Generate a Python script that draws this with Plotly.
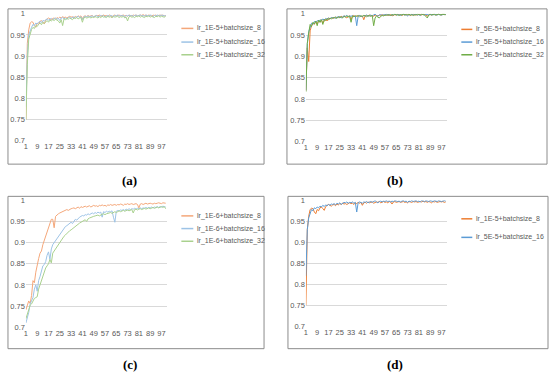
import plotly.graph_objects as go

epochs = list(range(1, 101))
x_tick_vals = list(range(1, 101, 8))
y_tick_vals = [0.7, 0.75, 0.8, 0.85, 0.9, 0.95, 1.0]
y_tick_text = ["0.7", "0.75", "0.8", "0.85", "0.9", "0.95", "1"]

# (a) lr 1E-5
a_bs8 = [0.750, 0.930, 0.962, 0.978, 0.981, 0.980, 0.972, 0.968, 0.978, 0.975,
         0.982, 0.984, 0.980, 0.976, 0.985, 0.987, 0.990, 0.988, 0.986, 0.989,
         0.990, 0.987, 0.991, 0.989, 0.992, 0.990, 0.993, 0.991, 0.992, 0.990,
         0.993, 0.994, 0.992, 0.993, 0.990, 0.994, 0.992, 0.995, 0.993, 0.995,
         0.988, 0.994, 0.995, 0.993, 0.996, 0.994, 0.995, 0.996, 0.993, 0.995,
         0.996, 0.995, 0.997, 0.994, 0.996, 0.997, 0.995, 0.996, 0.994, 0.997,
         0.996, 0.991, 0.996, 0.997, 0.995, 0.996, 0.997, 0.995, 0.996, 0.997,
         0.995, 0.996, 0.994, 0.997, 0.996, 0.995, 0.997, 0.996, 0.997, 0.995,
         0.996, 0.997, 0.996, 0.998, 0.996, 0.997, 0.995, 0.997, 0.996, 0.994,
         0.997, 0.996, 0.997, 0.995, 0.996, 0.997, 0.996, 0.997, 0.995, 0.996]
a_bs16 = [0.780, 0.900, 0.950, 0.962, 0.968, 0.975, 0.972, 0.978, 0.976, 0.980,
          0.982, 0.979, 0.984, 0.983, 0.986, 0.988, 0.985, 0.987, 0.989, 0.986,
          0.988, 0.990, 0.987, 0.989, 0.984, 0.990, 0.991, 0.988, 0.990, 0.987,
          0.991, 0.992, 0.989, 0.991, 0.993, 0.990, 0.992, 0.994, 0.991, 0.993,
          0.986, 0.992, 0.994, 0.993, 0.995, 0.992, 0.994, 0.995, 0.993, 0.995,
          0.996, 0.993, 0.995, 0.996, 0.994, 0.996, 0.992, 0.995, 0.996, 0.994,
          0.996, 0.995, 0.993, 0.996, 0.995, 0.997, 0.994, 0.996, 0.995, 0.996,
          0.993, 0.996, 0.995, 0.997, 0.995, 0.996, 0.994, 0.996, 0.997, 0.995,
          0.996, 0.997, 0.995, 0.996, 0.994, 0.997, 0.996, 0.995, 0.997, 0.996,
          0.993, 0.996, 0.995, 0.997, 0.996, 0.995, 0.997, 0.996, 0.995, 0.996]
a_bs32 = [0.750, 0.880, 0.940, 0.955, 0.963, 0.968, 0.965, 0.972, 0.970, 0.975,
          0.978, 0.974, 0.980, 0.977, 0.982, 0.984, 0.980, 0.985, 0.983, 0.986,
          0.984, 0.987, 0.985, 0.983, 0.978, 0.986, 0.972, 0.988, 0.986, 0.989,
          0.987, 0.990, 0.988, 0.986, 0.990, 0.989, 0.991, 0.988, 0.990, 0.991,
          0.980, 0.990, 0.992, 0.990, 0.991, 0.993, 0.990, 0.992, 0.991, 0.993,
          0.992, 0.990, 0.993, 0.991, 0.994, 0.992, 0.993, 0.991, 0.994, 0.992,
          0.993, 0.991, 0.994, 0.992, 0.993, 0.994, 0.991, 0.993, 0.992, 0.994,
          0.990, 0.992, 0.983, 0.993, 0.994, 0.992, 0.993, 0.991, 0.994, 0.993,
          0.995, 0.992, 0.994, 0.993, 0.991, 0.994, 0.993, 0.995, 0.992, 0.994,
          0.993, 0.991, 0.994, 0.993, 0.995, 0.992, 0.994, 0.993, 0.992, 0.994]

# (b) lr 5E-5
b_bs8 = [0.820, 0.920, 0.888, 0.960, 0.972, 0.978, 0.975, 0.982, 0.976, 0.984,
         0.980, 0.986, 0.978, 0.985, 0.988, 0.983, 0.990, 0.987, 0.991, 0.989,
         0.990, 0.992, 0.990, 0.993, 0.991, 0.994, 0.992, 0.995, 0.993, 0.990,
         0.994, 0.995, 0.986, 0.994, 0.996, 0.993, 0.995, 0.994, 0.996, 0.993,
         0.995, 0.986, 0.995, 0.996, 0.994, 0.997, 0.995, 0.996, 0.994, 0.997,
         0.996, 0.995, 0.997, 0.996, 0.998, 0.996, 0.997, 0.998, 0.996, 0.997,
         0.998, 0.995, 0.997, 0.998, 0.997, 0.999, 0.997, 0.998, 0.996, 0.998,
         0.997, 0.999, 0.997, 0.998, 0.996, 0.998, 0.999, 0.997, 0.998, 0.997,
         0.999, 0.998, 0.997, 0.999, 0.998, 0.997, 0.994, 0.998, 0.999, 0.997,
         0.998, 0.999, 0.997, 0.998, 0.999, 0.998, 0.997, 0.999, 0.998, 0.998]
b_bs16 = [0.820, 0.930, 0.958, 0.970, 0.978, 0.975, 0.982, 0.980, 0.984, 0.982,
          0.986, 0.984, 0.988, 0.985, 0.989, 0.987, 0.990, 0.988, 0.991, 0.990,
          0.992, 0.989, 0.993, 0.991, 0.994, 0.990, 0.993, 0.995, 0.994, 0.996,
          0.993, 0.995, 0.994, 0.996, 0.993, 0.995, 0.972, 0.994, 0.996, 0.995,
          0.993, 0.996, 0.995, 0.997, 0.994, 0.996, 0.997, 0.995, 0.998, 0.999,
          0.996, 0.994, 0.997, 0.998, 0.996, 0.998, 0.997, 0.999, 0.997, 0.998,
          0.996, 0.998, 0.997, 0.999, 0.998, 0.997, 0.998, 0.996, 0.998, 0.999,
          0.997, 0.998, 0.995, 0.998, 0.997, 0.999, 0.997, 0.998, 0.999, 0.997,
          0.998, 0.996, 0.999, 0.998, 0.997, 0.999, 0.998, 0.997, 0.999, 0.998,
          0.997, 0.999, 0.998, 0.997, 0.999, 0.998, 0.997, 0.998, 0.999, 0.998]
b_bs32 = [0.817, 0.930, 0.955, 0.975, 0.970, 0.980, 0.976, 0.983, 0.972, 0.985,
          0.980, 0.986, 0.975, 0.987, 0.984, 0.989, 0.986, 0.990, 0.988, 0.991,
          0.990, 0.992, 0.989, 0.993, 0.991, 0.993, 0.990, 0.994, 0.992, 0.995,
          0.993, 0.994, 0.980, 0.995, 0.993, 0.995, 0.994, 0.996, 0.993, 0.995,
          0.994, 0.996, 0.995, 0.993, 0.996, 0.995, 0.994, 0.996, 0.972, 0.990,
          0.995, 0.992, 0.990, 0.994, 0.996, 0.995, 0.997, 0.996, 0.998, 0.997,
          0.996, 0.998, 0.997, 0.999, 0.997, 0.998, 0.996, 0.998, 0.997, 0.999,
          0.998, 0.997, 0.998, 0.999, 0.997, 0.998, 0.996, 0.998, 0.997, 0.999,
          0.998, 0.997, 0.999, 0.998, 0.997, 0.994, 0.990, 0.997, 0.998, 0.997,
          0.999, 0.998, 0.997, 0.998, 0.999, 0.997, 0.998, 0.999, 0.998, 0.998]

# (c) lr 1E-6
c_bs8 = [0.741, 0.750, 0.762, 0.756, 0.775, 0.810, 0.805, 0.830, 0.850, 0.862,
         0.875, 0.880, 0.895, 0.905, 0.920, 0.925, 0.935, 0.945, 0.955, 0.955,
         0.935, 0.962, 0.966, 0.968, 0.970, 0.972, 0.974, 0.975, 0.977, 0.978,
         0.976, 0.979, 0.980, 0.981, 0.982, 0.980, 0.983, 0.984, 0.981, 0.985,
         0.983, 0.984, 0.986, 0.984, 0.985, 0.987, 0.984, 0.986, 0.988, 0.986,
         0.987, 0.985, 0.988, 0.987, 0.989, 0.987, 0.988, 0.986, 0.989, 0.988,
         0.990, 0.988, 0.989, 0.990, 0.988, 0.990, 0.989, 0.991, 0.990, 0.988,
         0.991, 0.990, 0.992, 0.990, 0.991, 0.992, 0.990, 0.991, 0.992, 0.990,
         0.982, 0.991, 0.992, 0.990, 0.992, 0.993, 0.991, 0.992, 0.993, 0.992,
         0.991, 0.993, 0.992, 0.993, 0.994, 0.993, 0.992, 0.994, 0.993, 0.993]
c_bs16 = [0.710, 0.720, 0.735, 0.755, 0.765, 0.770, 0.790, 0.800, 0.785, 0.810,
          0.820, 0.835, 0.845, 0.848, 0.855, 0.870, 0.878, 0.860, 0.885, 0.895,
          0.900, 0.902, 0.910, 0.915, 0.920, 0.925, 0.928, 0.932, 0.938, 0.940,
          0.943, 0.946, 0.948, 0.945, 0.952, 0.955, 0.953, 0.958, 0.960, 0.962,
          0.964, 0.963, 0.966, 0.965, 0.968, 0.966, 0.969, 0.970, 0.968, 0.971,
          0.969, 0.972, 0.970, 0.972, 0.960, 0.973, 0.971, 0.974, 0.972, 0.974,
          0.973, 0.975, 0.960, 0.948, 0.974, 0.976, 0.975, 0.977, 0.976, 0.978,
          0.976, 0.979, 0.977, 0.980, 0.978, 0.980, 0.979, 0.981, 0.979, 0.981,
          0.980, 0.982, 0.980, 0.982, 0.981, 0.983, 0.981, 0.983, 0.982, 0.984,
          0.982, 0.984, 0.983, 0.985, 0.983, 0.985, 0.984, 0.986, 0.985, 0.984]
c_bs32 = [0.720, 0.730, 0.740, 0.752, 0.755, 0.762, 0.768, 0.770, 0.772, 0.790,
          0.800, 0.815, 0.825, 0.830, 0.840, 0.845, 0.850, 0.860, 0.852, 0.875,
          0.880, 0.888, 0.892, 0.898, 0.902, 0.906, 0.910, 0.915, 0.918, 0.922,
          0.925, 0.928, 0.930, 0.933, 0.935, 0.938, 0.940, 0.943, 0.946, 0.948,
          0.950, 0.952, 0.954, 0.950, 0.956, 0.958, 0.960, 0.961, 0.962, 0.963,
          0.964, 0.965, 0.963, 0.966, 0.967, 0.968, 0.966, 0.968, 0.969, 0.970,
          0.971, 0.969, 0.972, 0.973, 0.971, 0.974, 0.975, 0.973, 0.975, 0.976,
          0.974, 0.976, 0.977, 0.975, 0.977, 0.978, 0.970, 0.978, 0.979, 0.977,
          0.979, 0.980, 0.978, 0.980, 0.981, 0.979, 0.981, 0.982, 0.980, 0.982,
          0.983, 0.981, 0.983, 0.984, 0.982, 0.984, 0.985, 0.983, 0.985, 0.980]

# (d) comparison uses the best two runs
d_1e5_bs8 = a_bs8
d_5e5_bs16 = b_bs16

W, H = 550, 382

ORANGE_L, BLUE_L, GREEN_L = "#F4A77A", "#9DC3E6", "#A9D18E"
ORANGE, BLUE, GREEN = "#ED7D31", "#5B9BD5", "#70AD47"

panels = [
    dict(label="(a)", plot=(24, 166, 10, 140), frame=(6, 263, 5, 164), lab=(128, 181),
         leg=(180, 192, 194, [25, 39, 52]),
         series=[("lr_1E-5+batchsize_8", a_bs8, ORANGE_L),
                 ("lr_1E-5+batchsize_16", a_bs16, BLUE_L),
                 ("lr_1E-5+batchsize_32", a_bs32, GREEN_L)]),
    dict(label="(b)", plot=(305, 447, 10, 141), frame=(286, 547, 5, 164), lab=(394, 181),
         leg=(461, 472, 474, [26, 39, 52]),
         series=[("lr_5E-5+batchsize_8", b_bs8, ORANGE),
                 ("lr_5E-5+batchsize_16", b_bs16, BLUE),
                 ("lr_5E-5+batchsize_32", b_bs32, GREEN)]),
    dict(label="(c)", plot=(24, 166, 201, 331), frame=(6, 263, 197, 353), lab=(128, 369),
         leg=(180, 192, 194, [217, 230, 243]),
         series=[("lr_1E-6+batchsize_8", c_bs8, ORANGE_L),
                 ("lr_1E-6+batchsize_16", c_bs16, BLUE_L),
                 ("lr_1E-6+batchsize_32", c_bs32, GREEN_L)]),
    dict(label="(d)", plot=(305, 447, 201, 330), frame=(287, 548, 197, 353), lab=(394, 369),
         leg=(461, 472, 474, [220, 239]),
         series=[("lr_1E-5+batchsize_8", d_1e5_bs8, ORANGE),
                 ("lr_5E-5+batchsize_16", d_5e5_bs16, BLUE)]),
]

fig = go.Figure()
shapes, annotations = [], []
layout = dict(width=W, height=H, margin=dict(l=0, r=0, t=0, b=0),
              paper_bgcolor="white", plot_bgcolor="white", showlegend=False,
              font=dict(family="Liberation Sans, Arial, sans-serif", size=7.5, color="#595959"))

def px_x(x):
    return x / W

def px_y(y):
    return 1 - y / H

for i, p in enumerate(panels, start=1):
    sfx = "" if i == 1 else str(i)
    x0, x1, y0, y1 = p["plot"]
    layout["xaxis" + sfx] = dict(domain=[px_x(x0), px_x(x1)], anchor="y" + sfx,
                                 range=[1, 101.2], tickvals=x_tick_vals, showgrid=False,
                                 zeroline=False, showline=False, ticks="",
                                 tickfont=dict(size=7.5, color="#595959"), fixedrange=True)
    layout["yaxis" + sfx] = dict(domain=[px_y(y1), px_y(y0)], anchor="x" + sfx,
                                 range=[0.7, 1.0], tickvals=y_tick_vals, ticktext=y_tick_text,
                                 showgrid=True, gridcolor="#D9D9D9", gridwidth=1,
                                 zeroline=False, showline=False, ticks="",
                                 tickfont=dict(size=7.5, color="#595959"), fixedrange=True)
    for name, vals, col in p["series"]:
        fig.add_trace(go.Scatter(x=epochs, y=vals, mode="lines", name=name,
                                 line=dict(color=col, width=1), hoverinfo="skip",
                                 xaxis="x" + sfx, yaxis="y" + sfx, cliponaxis=False))
    fx0, fx1, fy0, fy1 = p["frame"]
    shapes.append(dict(type="rect", xref="paper", yref="paper",
                       x0=px_x(fx0), x1=px_x(fx1), y0=px_y(fy1), y1=px_y(fy0),
                       line=dict(color="#8C8C8C", width=1), fillcolor="rgba(0,0,0,0)"))
    lx0, lx1, tx, ys = p["leg"]
    for (name, vals, col), ly in zip(p["series"], ys):
        shapes.append(dict(type="line", xref="paper", yref="paper",
                           x0=px_x(lx0), x1=px_x(lx1), y0=px_y(ly), y1=px_y(ly),
                           line=dict(color=col, width=1.5)))
        annotations.append(dict(text=name, xref="paper", yref="paper",
                                x=px_x(tx), y=px_y(ly), xanchor="left", yanchor="middle",
                                showarrow=False, font=dict(size=7, color="#595959")))
    annotations.append(dict(text="<b>" + p["label"] + "</b>", xref="paper", yref="paper",
                            x=px_x(p["lab"][0]), y=px_y(p["lab"][1]),
                            xanchor="center", yanchor="middle", showarrow=False,
                            font=dict(family="Liberation Serif, serif", size=13, color="#000000")))

layout["shapes"] = shapes
layout["annotations"] = annotations
fig.update_layout(**layout)
fig.write_html("out.html", config={"displayModeBar": False, "staticPlot": True},
               post_script="document.body.style.margin='0px';document.body.style.padding='0px';document.body.style.overflow='hidden';")
